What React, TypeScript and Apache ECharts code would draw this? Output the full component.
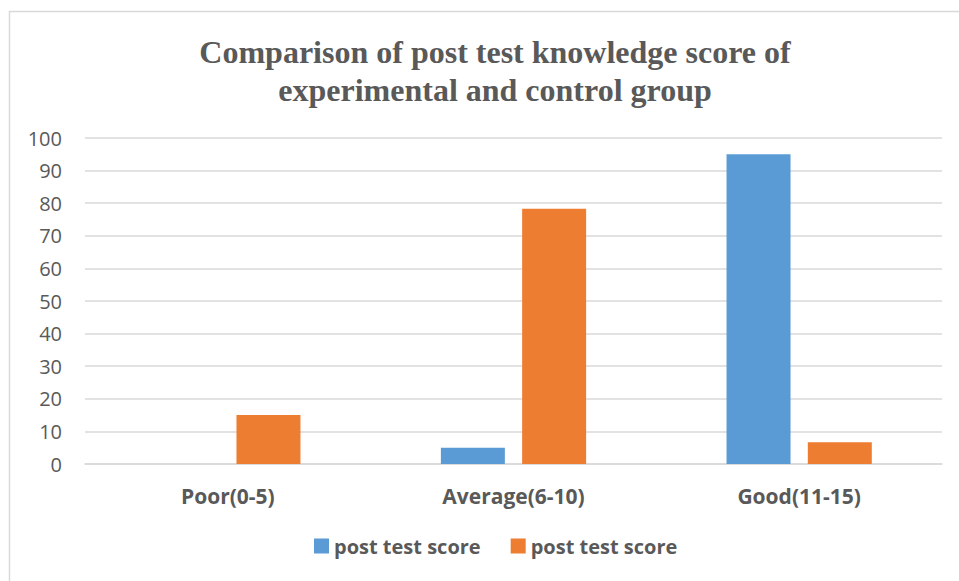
import React, { useEffect, useRef } from "react";
import * as echarts from "echarts";

const categories = ["Poor(0-5)", "Average(6-10)", "Good(11-15)"];
const seriesNames = ["post test score", "post test score"];
const experimental = [0, 5, 95];
const control = [15, 78.3, 6.7];
const titleText = "Comparison of post test knowledge score of\nexperimental and control group";

export default function App() {
  const ref = useRef<HTMLDivElement>(null);
  useEffect(() => {
    document.body.style.margin = "0";
    if (!ref.current) return;
    const chart = echarts.init(ref.current, undefined, { renderer: "svg" });
    const sans = "'Open Sans', 'Liberation Sans', sans-serif";
    chart.setOption({
      animation: false,
      backgroundColor: "#ffffff",
      title: {
        text: titleText,
        left: 490,
        textAlign: "center",
        top: 28,
        textStyle: {
          fontFamily: "'Liberation Serif', serif",
          fontWeight: "bold",
          fontSize: 32,
          lineHeight: 38,
          color: "#595959",
        },
      },
      graphic: [
        {
          type: "rect",
          shape: { x: 9.5, y: 11.5, width: 960, height: 580 },
          style: { fill: "none", stroke: "#d9d9d9", lineWidth: 1.5 },
          silent: true,
        },
      ],
      legend: {
        bottom: 20,
        left: 309,
        itemWidth: 15,
        itemHeight: 15,
        itemGap: 30,
        icon: "rect",
        textStyle: { fontFamily: sans, fontWeight: "bold", fontSize: 20, color: "#595959" },
        data: [
          { name: "s1", icon: "rect" },
          { name: "s2", icon: "rect" },
        ],
        formatter: (n: string) => (n === "s1" ? seriesNames[0] : seriesNames[1]),
      },
      grid: { left: 85, right: 17, top: 138, bottom: 117 },
      xAxis: {
        type: "category",
        data: categories,
        axisLine: { lineStyle: { color: "#d9d9d9", width: 1.5 } },
        axisTick: { show: false },
        axisLabel: {
          margin: 21,
          fontFamily: sans,
          fontWeight: "bold",
          fontSize: 21,
          color: "#595959",
        },
      },
      yAxis: {
        type: "value",
        min: 0,
        max: 100,
        interval: 10,
        axisLine: { show: false },
        axisTick: { show: false },
        splitLine: { lineStyle: { color: "#d9d9d9", width: 1.5 } },
        axisLabel: { margin: 23, fontFamily: sans, fontSize: 20, color: "#595959" },
      },
      series: [
        {
          name: "s1",
          type: "bar",
          data: experimental,
          barWidth: "22.4%",
          barGap: "27%",
          itemStyle: { color: "#5b9bd5" },
        },
        {
          name: "s2",
          type: "bar",
          data: control,
          barWidth: "22.4%",
          itemStyle: { color: "#ed7d31" },
        },
      ],
    });
    return () => chart.dispose();
  }, []);
  return <div ref={ref} style={{ width: 959, height: 581 }} />;
}
